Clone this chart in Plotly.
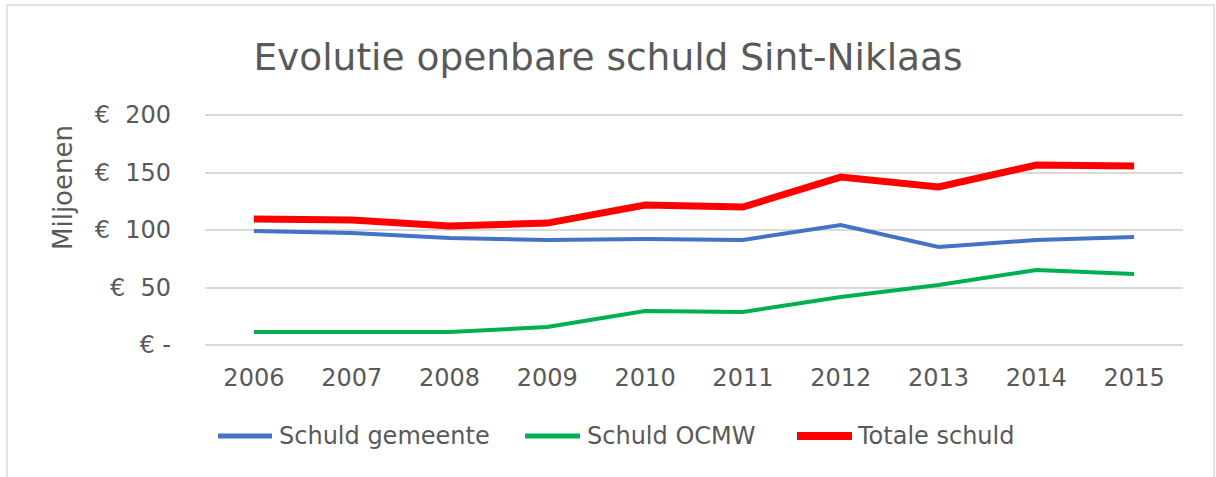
import plotly.graph_objects as go

years = ["2006", "2007", "2008", "2009", "2010", "2011", "2012", "2013", "2014", "2015"]
schuld_gemeente = [99.1, 97.4, 93.0, 91.3, 92.2, 91.3, 104.3, 85.2, 91.3, 93.9]
schuld_ocmw = [11.3, 11.3, 11.3, 15.7, 29.6, 28.7, 41.7, 52.2, 65.2, 61.7]
totale_schuld = [109.6, 108.7, 103.5, 106.0, 121.7, 120.0, 146.0, 137.4, 156.5, 155.7]
y_tickvals = [0, 50, 100, 150, 200]
y_ticktext = ["€ -", "€  50", "€  100", "€  150", "€  200"]
series_names = ["Schuld gemeente", "Schuld OCMW", "Totale schuld"]

FONT = "Verdana, DejaVu Sans, sans-serif"
TXT = "#595959"
GRID = "#D9D9D9"
COLORS = ["#4472C4", "#00B050", "#FF0000"]
WIDTHS = [4, 4, 7]

W, H = 1216, 477
# y=200 at 115px, y=0 at 345px -> 1.15 px per unit; pad 2px so edge gridlines render
PAD = 2
unit = 230 / 200
ext = PAD / unit
L, R, T, B = 205, 33, 115 - PAD, 132 - PAD
pw, ph = W - L - R, H - T - B


def px(x):
    return (x - L) / pw


def py(y):
    return (H - B - y) / ph


fig = go.Figure()
for name, vals, c, w in zip(series_names, [schuld_gemeente, schuld_ocmw, totale_schuld], COLORS, WIDTHS):
    fig.add_trace(go.Scatter(x=years, y=vals, mode="lines", name=name,
                             line=dict(color=c, width=w), showlegend=False))

fig.update_layout(
    width=W, height=H,
    margin=dict(l=L, r=R, t=T, b=B),
    paper_bgcolor="white", plot_bgcolor="white",
    font=dict(family=FONT, color=TXT, size=24),
    title=dict(text="Evolutie openbare schuld Sint-Niklaas", x=0.5, xref="container",
               xanchor="center", y=1 - 57 / H, yanchor="middle",
               font=dict(size=37.5, color=TXT, family=FONT)),
    xaxis=dict(type="category", range=[-0.5, 9.5], showgrid=False, showline=False,
               zeroline=False, ticks="", ticklabelstandoff=16 - PAD,
               tickfont=dict(size=24, color=TXT)),
    yaxis=dict(range=[-ext, 200 + ext], tickvals=y_tickvals, ticktext=y_ticktext,
               showgrid=True, gridcolor=GRID, gridwidth=1.5, zeroline=False,
               showline=False, ticks="", ticklabelstandoff=33,
               tickfont=dict(size=24, color=TXT)),
    showlegend=False,
)

# y-axis title
fig.add_annotation(text="Miljoenen", x=px(63), y=py(188), xref="paper", yref="paper",
                   showarrow=False, textangle=-90, xanchor="center", yanchor="middle",
                   font=dict(size=26, color=TXT, family=FONT))

# legend (drawn manually to match entry spacing)
leg_y = py(436)
leg_line_x = [(218, 272), (525, 580), (797, 852)]
leg_text_x = [277, 585, 855]
for name, c, w, (a, b), tx in zip(series_names, COLORS, WIDTHS, leg_line_x, leg_text_x):
    fig.add_shape(type="line", xref="paper", yref="paper", x0=px(a), x1=px(b),
                  y0=leg_y, y1=leg_y, line=dict(color=c, width=w + 1))
    fig.add_annotation(text=name, x=px(tx), y=leg_y, xref="paper", yref="paper",
                       showarrow=False, xanchor="left", yanchor="middle",
                       font=dict(size=24, color=TXT, family=FONT))

# chart border
fig.add_shape(type="rect", xref="paper", yref="paper",
              x0=px(7), x1=px(1214), y0=py(480), y1=py(5),
              line=dict(color=GRID, width=1.5), fillcolor="rgba(0,0,0,0)", layer="below")

fig.write_html("out.html", config={"displayModeBar": False},
               post_script="document.body.style.margin='0';")
